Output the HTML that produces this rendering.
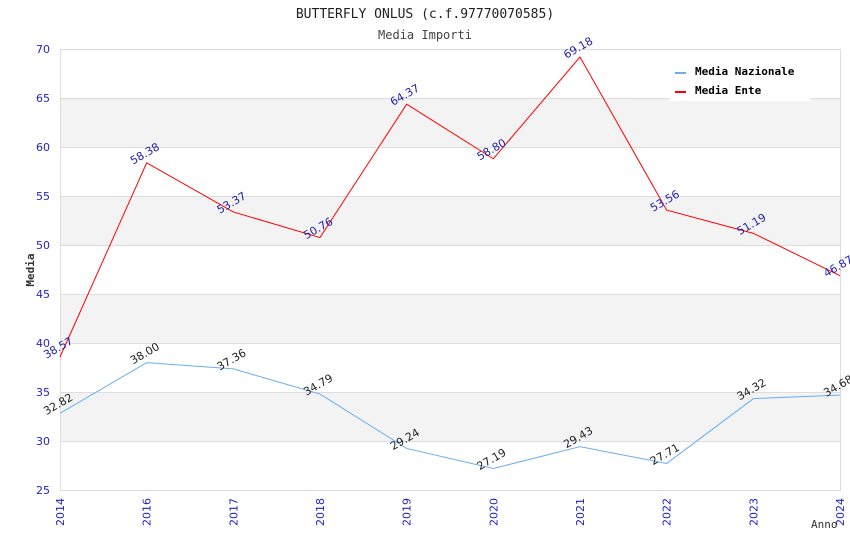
<!DOCTYPE html>
<html><head><meta charset="utf-8"><style>
body{margin:0;background:#fff;}
text{font-family:"DejaVu Sans Mono","Liberation Mono",monospace;}
text.s{font-family:"DejaVu Sans","Liberation Sans",sans-serif;}
</style></head><body>
<svg id="c" width="850" height="550" xmlns="http://www.w3.org/2000/svg">
<text x="425" y="18" text-anchor="middle" font-size="13" fill="#222">BUTTERFLY ONLUS (c.f.97770070585)</text>
<text x="425" y="39" text-anchor="middle" font-size="12" fill="#444">Media Importi</text>
<g id="bands"></g><g id="grid"></g>
<rect x="60.5" y="49.5" width="780" height="441" fill="none" stroke="#ddd"/>
<g id="axes"></g><g id="series"></g>
<text transform="translate(34,270) rotate(-90)" text-anchor="middle" font-size="11" font-weight="bold" fill="#333">Media</text>
<text x="811" y="528" font-size="11" fill="#333">Anno</text>
<g>
<rect x="670" y="58" width="140" height="43" fill="#fff"/>
<rect x="675" y="72" width="11" height="2" fill="#6aaef0"/>
<text x="695" y="75" font-size="11" font-weight="bold" fill="#000">Media Nazionale</text>
<rect x="675" y="91" width="11" height="2" fill="#f00"/>
<text x="695" y="94" font-size="11" font-weight="bold" fill="#000">Media Ente</text>
</g>
</svg>
<script>
const years=["2014","2016","2017","2018","2019","2020","2021","2022","2023","2024"];
const nazionale=[32.82,38.00,37.36,34.79,29.24,27.19,29.43,27.71,34.32,34.68];
const ente=[38.57,58.38,53.37,50.76,64.37,58.80,69.18,53.56,51.19,46.87];
const yTicks=[25,30,35,40,45,50,55,60,65,70];
const NS="http://www.w3.org/2000/svg";
const x0=60,x1=840,yTop=49,yBot=490,vMin=25,vMax=70;
const xs=i=>x0+i*(x1-x0)/(years.length-1);
const ys=v=>yBot-(v-vMin)/(vMax-vMin)*(yBot-yTop);
function mk(tag,attrs,parent){const e=document.createElementNS(NS,tag);for(const k in attrs)e.setAttribute(k,attrs[k]);parent.appendChild(e);return e;}
const bands=document.getElementById('bands'),grid=document.getElementById('grid'),axes=document.getElementById('axes'),ser=document.getElementById('series');
for(let k=0;k<yTicks.length-1;k++){
  if(k%2===1){const r=mk('rect',{x:x0,y:ys(yTicks[k+1]),width:x1-x0,height:ys(yTicks[k])-ys(yTicks[k+1]),fill:'#f3f3f3'},bands);
  
  }
}
yTicks.forEach(t=>{
  const l=mk('line',{x1:x0,x2:x1,y1:ys(t)+0.5,y2:ys(t)+0.5,stroke:'#ddd'},grid);
  
  
  const tx=mk('text',{class:'s',x:x0-10,y:ys(t)+4,'text-anchor':'end','font-size':11,fill:'#22c'},axes);
  tx.textContent=t;
  
  
});
years.forEach((y,i)=>{
  const tx=mk('text',{class:'s',transform:`translate(${xs(i)+4},${yBot+8}) rotate(-90)`,'text-anchor':'end','font-size':11,fill:'#22c'},axes);
  tx.textContent=y;
  
  
});
function draw(vals,color,lblColor,name){
  const p=mk('polyline',{points:vals.map((v,i)=>xs(i)+','+ys(v)).join(' '),fill:'none',stroke:color,'stroke-width':1},ser);
  
  
  vals.forEach((v,i)=>{
    const t=mk('text',{class:'s',transform:`translate(${xs(i)},${ys(v)-6}) rotate(-30)`,'text-anchor':'middle','font-size':11,fill:lblColor},ser);
    t.textContent=v.toFixed(2);
    
    
  });
}
draw(nazionale,'#6aaef0','#222','nazionale');
draw(ente,'#f00','#22a','ente');
</script>
</body></html>
